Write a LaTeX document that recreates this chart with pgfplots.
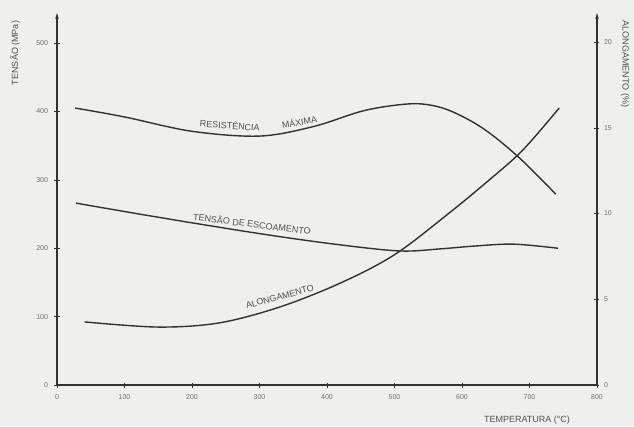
\documentclass[border=0pt]{standalone}
\usepackage{fontspec}
\setmainfont{Liberation Sans}
\usepackage{pgfplots}
\pgfplotsset{compat=1.18}
\usetikzlibrary{arrows.meta}
\definecolor{bg}{RGB}{239,239,237}
\definecolor{ln}{RGB}{50,50,50}
\definecolor{tx}{RGB}{80,80,80}
\definecolor{tk}{RGB}{110,110,110}
\pgfplotstableread{
T  v
27 405
100 392
200 371
300 364
380 378
450 400
500 409
540 411
580 402
630 376
683 334
739 279
}\resist
\pgfplotstableread{
T v
28 266
110 252
201 237
316 219
419 205
508 196
567 199
616 203
676 206
742 200
}\escoa
\pgfplotstableread{
T v
41 3.68
150 3.38
240 3.62
330 4.55
420 5.95
500 7.6
580 10.0
640 11.95
690 13.7
744 16.16
}\along
\begin{document}
\begin{tikzpicture}[x=1pt,y=1pt]
\path[use as bounding box,fill=bg] (0,0) rectangle (634,426);
\pgfplotsset{
  common/.style={
    scale only axis, width=540pt, height=372pt,
    at={(57pt,41pt)}, anchor=south west,
    xmin=0, xmax=800,
    tick align=center, major tick length=5pt,
    tick style={ln, line width=0.7pt},
    ticklabel style={font=\fontsize{7}{8}\selectfont, text=tk},
    /pgf/number format/assume math mode=true,
    axis line style={ln, line width=1.1pt},
  }
}
\begin{axis}[common,
  ymin=0, ymax=544,
  axis x line=bottom, axis y line=left,
  x axis line style={-},
  y axis line style={-{Stealth[length=6pt,width=3.5pt]}},
  xtick={0,100,...,800}, ytick={0,100,...,500},
  xticklabel style={yshift=-4pt},
  yticklabel style={xshift=-3pt},
]
\addplot[ln, line width=1.4pt, smooth, tension=0.55] table[x=T,y=v]{\resist};
\addplot[ln, line width=1.4pt, smooth, tension=0.55] table[x=T,y=v]{\escoa};
\node[rotate=-4, text=tx, font=\fontsize{9}{10}\selectfont] at (axis cs:256,380) {RESISTÊNCIA};
\node[rotate=10, text=tx, font=\fontsize{9}{10}\selectfont] at (axis cs:359,385) {MÁXIMA};
\node[rotate=-7, text=tx, font=\fontsize{9}{10}\selectfont] at (axis cs:289,236) {TENSÃO DE ESCOAMENTO};
\node[rotate=15, text=tx, font=\fontsize{9}{10}\selectfont] at (axis cs:330,129) {ALONGAMENTO};
\end{axis}
\begin{axis}[common,
  ymin=0, ymax=21.7,
  axis x line=none, axis y line=right,
  y axis line style={-{Stealth[length=6pt,width=3.5pt]}},
  ytick={0,5,...,20},
  yticklabel style={xshift=1pt},
]
\addplot[ln, line width=1.4pt, smooth, tension=0.55] table[x=T,y=v]{\along};
\end{axis}
\node[rotate=90, text=tx, font=\fontsize{9}{10}\selectfont] at (15,373) {TENSÃO (MPa)};
\node[rotate=-90, text=tx, font=\fontsize{9}{10}\selectfont] at (625,362) {ALONGAMENTO (\%)};
\node[text=tx, font=\fontsize{9}{10}\selectfont] at (527,6) {TEMPERATURA (°C)};
\end{tikzpicture}
\end{document}
